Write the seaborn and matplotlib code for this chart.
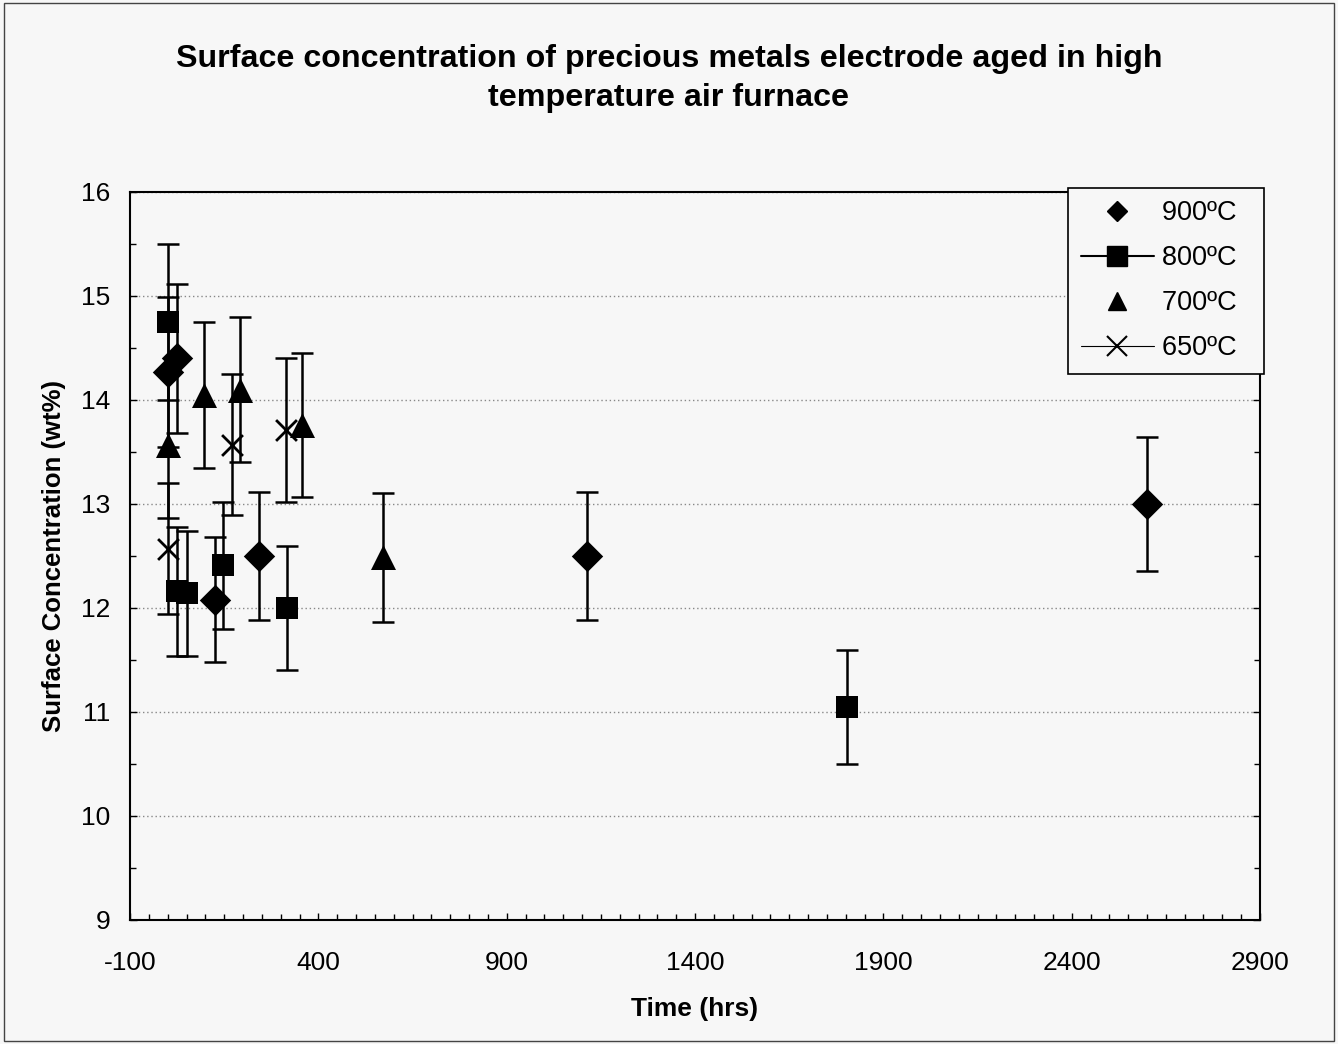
import pandas as pd
import matplotlib
matplotlib.use("Agg")
import matplotlib.pyplot as plt
import seaborn as sns
from matplotlib.lines import Line2D
from matplotlib.patches import Rectangle
from matplotlib.ticker import MultipleLocator

# --- data ---
series_names = ['900ºC', '800ºC', '700ºC', '650ºC']

t_900 = [0, 25, 125, 243, 1113, 2600]
c_900 = [14.27, 14.40, 12.08, 12.50, 12.50, 13.00]
e_900 = [0.72, 0.72, 0.60, 0.62, 0.62, 0.64]

t_800 = [0, 24, 52, 146, 316, 1803]
c_800 = [14.75, 12.16, 12.14, 12.41, 12.00, 11.05]
e_800 = [0.75, 0.62, 0.60, 0.61, 0.60, 0.55]

t_700 = [0, 97, 192, 356, 572]
c_700 = [13.57, 14.05, 14.10, 13.76, 12.49]
e_700 = [0.70, 0.70, 0.70, 0.69, 0.62]

t_650 = [0, 170, 314]
c_650 = [12.57, 13.57, 13.71]
e_650 = [0.63, 0.68, 0.69]

x_ticks = [-100, 400, 900, 1400, 1900, 2400, 2900]
y_ticks = [9, 10, 11, 12, 13, 14, 15, 16]


def build_frame():
    rows = []
    for name, t, c, e in zip(series_names,
                             [t_900, t_800, t_700, t_650],
                             [c_900, c_800, c_700, c_650],
                             [e_900, e_800, e_700, e_650]):
        for ti, ci, ei in zip(t, c, e):
            rows.append({'Time': ti, 'Conc': ci, 'Err': ei, 'Temp': name})
    return pd.DataFrame(rows)


def main():
    sns.set_theme(style="white")
    plt.rcParams['font.family'] = ['Liberation Sans', 'DejaVu Sans']
    plt.rcParams['axes.unicode_minus'] = False
    plt.rcParams['text.color'] = 'black'
    plt.rcParams['axes.labelcolor'] = 'black'
    plt.rcParams['xtick.color'] = 'black'
    plt.rcParams['ytick.color'] = 'black'

    df = build_frame()
    bg = '#f7f7f7'
    fig = plt.figure(figsize=(13.38, 10.44), dpi=100, facecolor=bg)
    ax = fig.add_axes([0.0972, 0.1188, 0.8445, 0.6973])
    ax.set_facecolor(bg)

    markers = {'900ºC': 'D', '800ºC': 's', '700ºC': '^', '650ºC': 'x'}
    sizes = {'900ºC': 16, '800ºC': 16, '700ºC': 18, '650ºC': 15}

    for name in series_names:
        sub = df[df['Temp'] == name]
        ax.errorbar(sub['Time'], sub['Conc'], yerr=sub['Err'], fmt='none',
                    ecolor='black', elinewidth=1.8, capsize=8, capthick=1.8, zorder=3)
        sns.scatterplot(data=sub, x='Time', y='Conc', marker=markers[name],
                        s=sizes[name] ** 2, color='black', edgecolor='black',
                        linewidth=2 if name == '650ºC' else 0, ax=ax, zorder=4,
                        legend=False)

    ax.set_xlim(-100, 2900)
    ax.set_ylim(9, 16)
    ax.set_xticks(x_ticks)
    ax.set_yticks(y_ticks)
    ax.xaxis.set_minor_locator(MultipleLocator(50))
    ax.yaxis.set_minor_locator(MultipleLocator(0.5))
    ax.tick_params(axis='both', which='both', direction='in', colors='black',
                   labelsize=19, bottom=True, left=True, right=True)
    ax.tick_params(which='major', length=5, width=1)
    ax.tick_params(which='minor', length=4, width=1)
    ax.tick_params(axis='x', pad=22)
    ax.tick_params(axis='y', pad=14)
    ax.yaxis.grid(True, linestyle=(0, (1, 2)), color='#888888', linewidth=1)
    ax.set_axisbelow(True)
    for sp in ax.spines.values():
        sp.set_color('black')
        sp.set_linewidth(1.5)

    ax.set_xlabel('Time (hrs)', fontsize=19, fontweight='bold', labelpad=16)
    ax.set_ylabel('Surface Concentration (wt%)', fontsize=18.5, fontweight='bold', labelpad=11)
    fig.suptitle('Surface concentration of precious metals electrode aged in high\n'
                 'temperature air furnace', fontsize=23.2, fontweight='bold',
                 y=0.958, linespacing=1.4)

    handles = [
        Line2D([], [], color='black', marker='D', markersize=10, linestyle='none'),
        Line2D([], [], color='black', marker='s', markersize=14, linewidth=1.5),
        Line2D([], [], color='black', marker='^', markersize=13, linestyle='none'),
        Line2D([], [], color='black', marker='x', markersize=15, mew=1.5, linewidth=0.8),
    ]
    leg = ax.legend(handles, [s + '  ' for s in series_names], loc='upper right',
                    bbox_to_anchor=(0.9447, 0.8199), bbox_transform=fig.transFigure,
                    borderaxespad=0, fontsize=19.5, frameon=True, fancybox=False,
                    handlelength=2.7, labelspacing=0.7, borderpad=0.46,
                    handletextpad=0.3)
    leg.get_frame().set_edgecolor('black')
    leg.get_frame().set_linewidth(1.2)
    leg.get_frame().set_facecolor(bg)
    leg.get_frame().set_alpha(1)

    fig.patches.append(Rectangle((0.003, 0.003), 0.994, 0.994, transform=fig.transFigure,
                                 fill=False, edgecolor='#444444', linewidth=1))

    fig.savefig('out.png', dpi=100, facecolor=bg)
    plt.close(fig)


if __name__ == '__main__':
    main()
